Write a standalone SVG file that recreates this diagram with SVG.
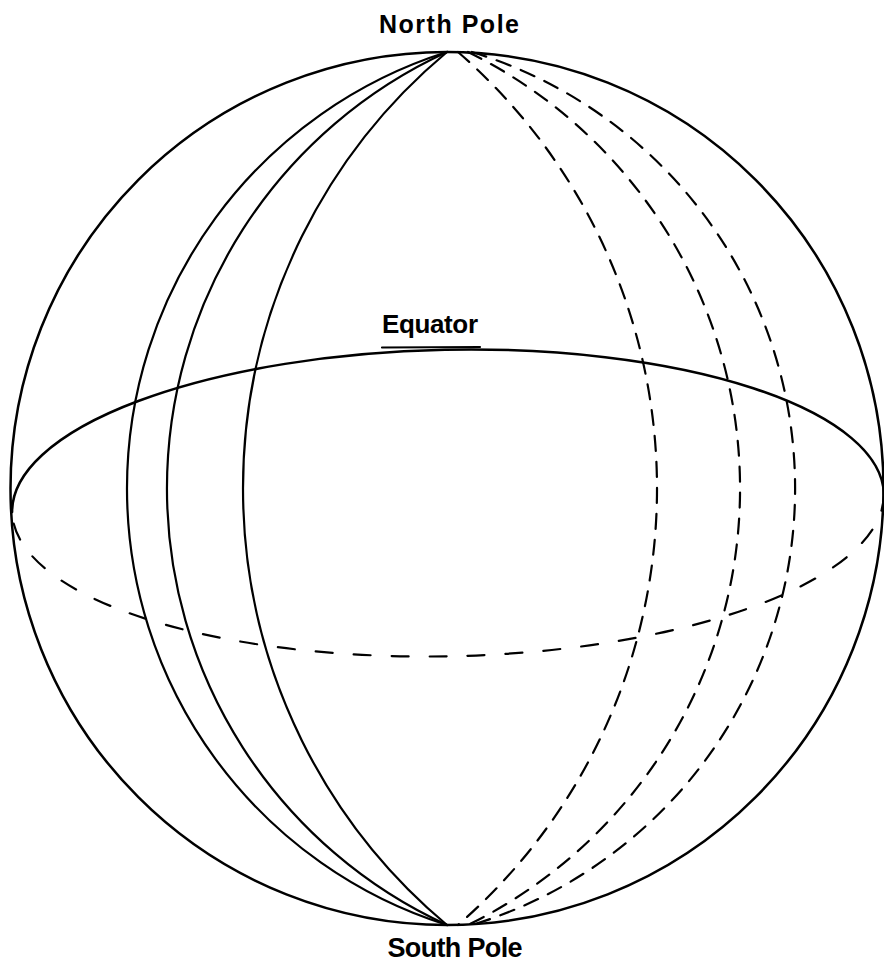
<svg xmlns="http://www.w3.org/2000/svg" width="884" height="963" viewBox="0 0 884 963">
<style>
.ln{fill:none;stroke:#000;stroke-width:2.2;stroke-linecap:round}
.sd{stroke-dasharray:15 11}
.eqd{stroke-dasharray:17 21}
.lbl{font-family:"Liberation Sans",Arial,sans-serif;font-size:25px;font-weight:bold;fill:#000;text-anchor:middle}
</style>
<rect width="884" height="963" fill="#fff"/>
<g id="sphere">
<circle class="ln" cx="447" cy="488.5" r="436.5" style="stroke-width:2.5"/>
</g>
<g id="meridians">
<path class="ln" d="M447 52 A457.7 457.7 0 0 0 447 925"/>
<path class="ln" d="M447 52 A480.2 480.2 0 0 0 447 925"/>
<path class="ln" d="M447 52 A569 569 0 0 0 447 925"/>
<path class="ln sd" d="M458 52 A578.2 578.2 0 0 1 458 925"/>
<path class="ln sd" d="M468 52 A486.2 486.2 0 0 1 468 925"/>
<path class="ln sd" d="M472 52 A456.4 456.4 0 0 1 472 925"/>
</g>
<g id="equator">
<path class="ln" style="stroke-width:2.5" d="M12.1 512.1 A436 154 -1.2 0 1 883.9 493.9"/>
<path class="ln eqd" d="M883.9 493.9 A436 154 -1.2 0 1 12.1 512.1"/>
<line class="ln" x1="382" y1="347.5" x2="480" y2="347"/>
</g>
<g id="labels">
<text class="lbl" x="449" y="33" textLength="140" lengthAdjust="spacing">North Pole</text>
<text class="lbl" x="430" y="333" style="font-size:26px" textLength="96" lengthAdjust="spacing">Equator</text>
<text class="lbl" x="455" y="957" style="font-size:27px" textLength="135" lengthAdjust="spacing">South Pole</text>
</g>
</svg>
